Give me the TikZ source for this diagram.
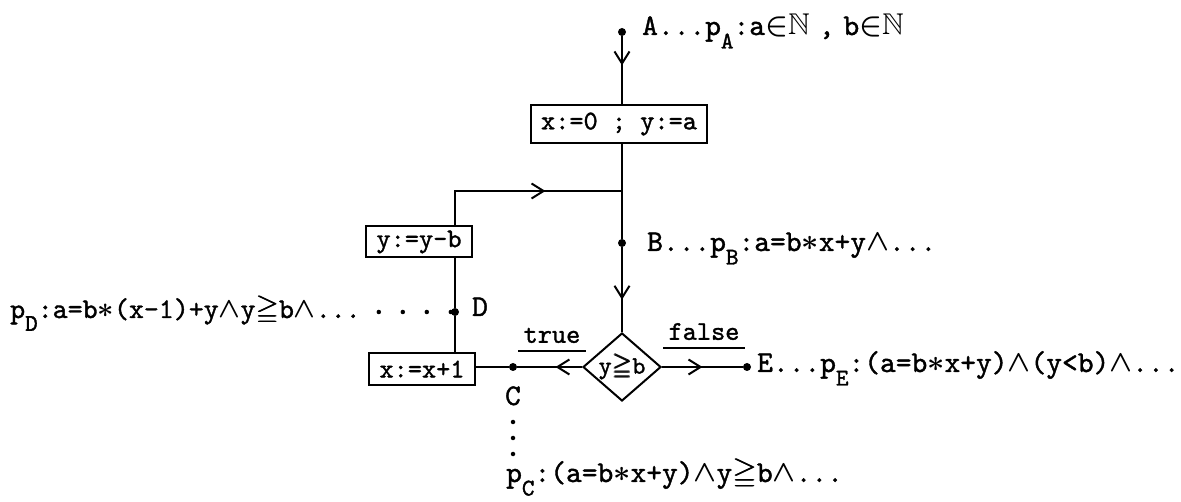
\RequirePackage{fix-cm}
\documentclass[tikz,border=0pt]{standalone}
\usepackage{amssymb}
\usepackage{bm}
\usepackage{fontspec}
\newfontfamily\tw{lmmono10-regular.otf}[FakeBold=1.3]
\usetikzlibrary{arrows.meta,shapes.geometric,decorations.markings}

% lowered subscript letter for predicate names
\newcommand{\psub}[1]{\raisebox{-0.45em}{\fontsize{24}{24}\selectfont #1}}
% heavier logic symbols to sit with the typewriter text
\newcommand{\sand}{$\bm{\wedge}$}
\newcommand{\smul}{$\bm{\ast}$}
\newcommand{\sgeq}{$\bm{\geqq}$}
\newcommand{\snat}{$\mathord{\bm{\in}}\bm{\mathbb{N}}$}

\tikzset{
  flow/.style={line width=2.2pt},
  tipmark/.style={postaction={decorate,decoration={markings,
      mark=at position #1 with {\arrow{Straight Barb[length=12pt,width=15pt,line width=2pt]}}}}},
  stmt/.style={draw,line width=2pt,inner xsep=10pt,inner ysep=0pt,minimum height=32pt,
      font=\fontsize{27}{27}\selectfont\tw},
  cond/.style={draw,diamond,line width=2pt,inner sep=-3pt,minimum width=78pt,minimum height=68pt,
      aspect=1.15,font=\fontsize{25}{25}\selectfont\tw},
  pt/.style={circle,fill,inner sep=0pt,minimum size=8pt},
  note/.style={inner sep=0pt,anchor=base west,font=\fontsize{30}{30}\selectfont\tw},
  branch/.style={inner xsep=5pt,inner ysep=8pt,text depth=0pt,anchor=south,
      font=\fontsize{27}{27}\selectfont\tw},
  uline/.style={line width=2pt},
  pointdots/.style={line width=4.5pt,line cap=round,dash pattern=on 0pt off #1}
}

\begin{document}
\begin{tikzpicture}[x=1pt,y=-1pt]
\useasboundingbox (0,0) rectangle (1181,502);

% points and statements
\node[pt] (A) at (622,32) {};
\node[stmt,minimum height=38pt] (init) at (619,124) {x:=0 ; y:=a};
\coordinate (J) at (622,191);
\coordinate (L) at (455,191);
\node[pt] (B) at (622,243) {};
\node[cond] (test) at (622,367) {y\sgeq b};
\node[pt] (C) at (513,367) {};
\node[pt] (E) at (747,367) {};
\node[stmt] (incx) at (422,369) {x:=x+1};
\node[stmt,minimum height=31pt] (decy) at (419,242) {y:=y-b};
\node[pt] (D) at (455,312) {};

% annotations
\node[note] (pA) at (642,35) {A...p\psub{A}:a\snat\hspace{0.3em},\hspace{0.3em}b\snat};
\node[note] (pB) at (647,251) {B...p\psub{B}:a=b\smul x+y\sand...};
\node[note] (pE) at (757,372) {E...p\psub{E}:(a=b\smul x+y)\sand(y<b)\sand...};
\node[note] (Dl) at (472,316) {D};
\node[note,font=\fontsize{28.5}{28.5}\selectfont\tw] (pD) at (10,318)
  {p\psub{D}:a=b\smul(x-1)+y\sand y\sgeq b\sand...};
\node[note,anchor=base] (Cl) at (513,405) {C};
\node[note] (pC) at (506,482) {p\psub{C}:(a=b\smul x+y)\sand y\sgeq b\sand...};
\node[branch] (tr) at (552,351) {true};
\node[branch] (fa) at (704,348) {false};
\draw[uline] (tr.south west) -- (tr.south east);
\draw[uline] (fa.south west) -- (fa.south east);

% control flow
\draw[flow,tipmark=0.43] (A) -- (init.north -| A);
\draw[flow,tipmark=0.82] (init.south -| J) -- (J) -- (B) -- (test.north);
\draw[flow] (incx.north -| D) -- (D) -- (decy.south -| D);
\draw[flow,tipmark=0.62] (decy.north -| L) -- (L) -- (J);
\draw[flow,tipmark=0.27] (test.west) -- (C) -- (C -| incx.east);
\draw[flow,tipmark=0.5] (test.east) -- (E);

% dotted leaders to the predicates
\coordinate (Dend) at (375,312);
\draw[pointdots=24pt] (D) -- (Dend);
\coordinate (Ctop) at (513,422);
\coordinate (Cbot) at (513,456);
\draw[pointdots=16pt] (Ctop) -- (Cbot);
\end{tikzpicture}
\end{document}
